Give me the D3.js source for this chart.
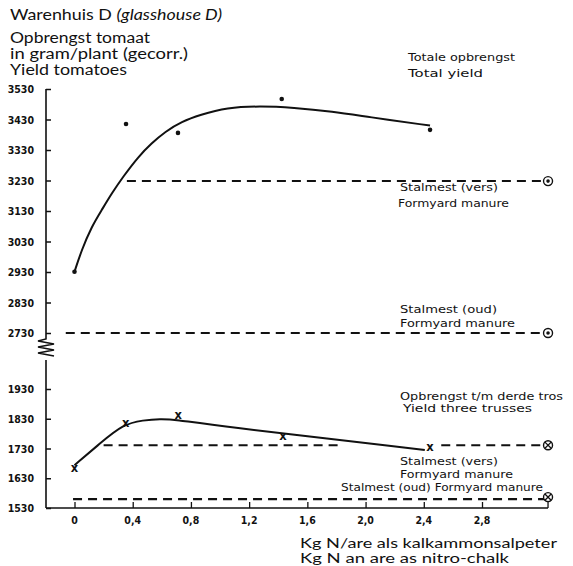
<!DOCTYPE html>
<html><head><meta charset="utf-8">
<script src="https://cdn.jsdelivr.net/npm/d3@7"></script>
<style>body{margin:0;background:#fff}svg{display:block}</style>
</head><body>
<svg id="c" width="573" height="566"></svg>
<script>
// ---- data ----
const xTicks = [0, 0.4, 0.8, 1.2, 1.6, 2.0, 2.4, 2.8];
const xTickLabels = ["0", "0,4", "0,8", "1,2", "1,6", "2,0", "2,4", "2,8"];
const upperTicks = [2730, 2830, 2930, 3030, 3130, 3230, 3330, 3430, 3530];
const lowerTicks = [1530, 1630, 1730, 1830, 1930];

// total yield observations
const totalN = [0, 0.354, 0.711, 1.424, 2.443];
const totalYield = [2931, 3415, 3386, 3497, 3396];
// fitted total-yield curve
const totalCurveN = [0, 0.049, 0.118, 0.187, 0.256, 0.335, 0.438, 0.530, 0.622, 0.737, 0.862, 1.046, 1.275, 1.501, 1.776, 2.01, 2.443];
const totalCurveY = [2931, 3002, 3079, 3133, 3188, 3243, 3308, 3352, 3390, 3423, 3445, 3469, 3474, 3469, 3456, 3439, 3410];

// yield three trusses observations
const trussN = [0, 0.352, 0.713, 1.433, 2.443];
const trussYield = [1663, 1815, 1842, 1769, 1735];
// fitted three-trusses curve
const trussCurveN = [0, 0.175, 0.335, 0.473, 0.587, 0.702, 0.931, 2.407];
const trussCurveY = [1674, 1747, 1812, 1825, 1830, 1827, 1809, 1725];

// farmyard manure reference levels
const upperVers = {from: 0.36, to: 3.24, value: 3228};
const upperOud = {from: -0.06, to: 3.24, value: 2730};
const lowerVersA = {from: 0.2, to: 1.83, value: 1741};
const lowerVersB = {from: 2.52, to: 3.24, value: 1741};
const lowerOud = {from: -0.01, to: 3.24, value: 1560};

// ---- drawing ----
const svg = d3.select("#c");
const x = d3.scaleLinear().domain([0, 2.8]).range([74.5, 482]);
const yU = d3.scaleLinear().domain([2730, 3530]).range([333, 89]);
const yL = d3.scaleLinear().domain([1530, 1930]).range([508, 389]);

const tickFont = "'DejaVu Sans Condensed', 'DejaVu Sans', sans-serif";
const labFont = "'DejaVu Sans', sans-serif";
const titleFont = "Lato, 'Open Sans', sans-serif";

function fitText(sel, len) {
  return sel.attr("textLength", len).attr("lengthAdjust", "spacingAndGlyphs");
}

// titles
const title = svg.append("text").attr("x", 10).attr("y", 20)
  .attr("font-family", titleFont).attr("font-size", 15).attr("fill", "#111");
title.append("tspan").text("Warenhuis D ");
title.append("tspan").attr("font-style", "italic").text("(glasshouse D)");
fitText(title, 212);
[["Opbrengst tomaat", 43, 140], ["in gram/plant (gecorr.)", 59, 178], ["Yield tomatoes", 75, 117]].forEach(([t, yy, w]) =>
  fitText(svg.append("text").attr("x", 10).attr("y", yy).attr("font-family", titleFont)
    .attr("font-size", 14.5).attr("fill", "#111").text(t), w));

// y axes
const axU = svg.append("g").attr("transform", "translate(46,0)")
  .call(d3.axisRight(yU).tickValues(upperTicks).tickSize(5).tickFormat(""));
const axL = svg.append("g").attr("transform", "translate(46,0)")
  .call(d3.axisRight(yL).tickValues(lowerTicks).tickSize(5).tickFormat(""));
[axU, axL].forEach(a => { a.select(".domain").remove(); a.selectAll("line").attr("stroke", "#111").attr("stroke-width", 1.5); });

// vertical axis line with break
const axisPath = d3.path();
axisPath.moveTo(46, yU(3530)); axisPath.lineTo(46, 339);
[[38,341],[54,344],[38,347],[54,350],[38,353],[54,356]].forEach(p => axisPath.lineTo(p[0], p[1]));
axisPath.moveTo(46, 360); axisPath.lineTo(46, yL(1530));
svg.append("path").attr("d", axisPath.toString()).attr("fill", "none").attr("stroke", "#111").attr("stroke-width", 1.6);

// y tick labels
function yLabels(ticks, sc) {
  svg.append("g").selectAll("text").data(ticks).join("text")
    .attr("x", 34).attr("y", d => sc(d) + 4).attr("text-anchor", "end")
    .attr("font-family", tickFont).attr("font-weight", "bold").attr("font-size", 10.5)
    .attr("fill", "#111").text(d => d);
}
yLabels(upperTicks, yU); yLabels(lowerTicks, yL);

// x axis
const axX = svg.append("g").attr("transform", `translate(0,${yL(1530)})`)
  .call(d3.axisTop(x).tickValues(xTicks).tickSize(6).tickFormat(""));
axX.select(".domain").remove();
axX.selectAll("line").attr("stroke", "#111").attr("stroke-width", 1.3);
svg.append("line").attr("x1", 46).attr("x2", x(3.24) + 2).attr("y1", yL(1530)).attr("y2", yL(1530))
  .attr("stroke", "#111").attr("stroke-width", 1.6);
svg.append("line").attr("x1", x(3.24) + 2).attr("x2", x(3.24) + 2).attr("y1", yL(1530)).attr("y2", yL(1560) + 3)
  .attr("stroke", "#111").attr("stroke-width", 1.3);
svg.append("g").selectAll("text").data(xTicks).join("text")
  .attr("x", (d, i) => x(d)).attr("y", 524).attr("text-anchor", "middle")
  .attr("font-family", tickFont).attr("font-weight", "bold").attr("font-size", 10.5)
  .attr("fill", "#111").text((d, i) => xTickLabels[i]);

// x axis title
[["Kg N/are als kalkammonsalpeter", 548, 257], ["Kg N an are as nitro-chalk", 563, 209]].forEach(([t, yy, w]) =>
  fitText(svg.append("text").attr("x", 300).attr("y", yy).attr("font-family", titleFont)
    .attr("font-size", 12.5).attr("fill", "#111").text(t), w));

// curves
const lineGen = (sc) => d3.line().x(d => x(d[0])).y(d => sc(d[1])).curve(d3.curveBasis);
svg.append("path").datum(d3.zip(totalCurveN, totalCurveY)).attr("d", lineGen(yU))
  .attr("fill", "none").attr("stroke", "#111").attr("stroke-width", 2);
svg.append("path").datum(d3.zip(trussCurveN, trussCurveY)).attr("d", lineGen(yL))
  .attr("fill", "none").attr("stroke", "#111").attr("stroke-width", 2);

// observation markers
svg.append("g").selectAll("circle").data(d3.zip(totalN, totalYield)).join("circle")
  .attr("cx", d => x(d[0])).attr("cy", d => yU(d[1])).attr("r", 2.3).attr("fill", "#111");
svg.append("g").selectAll("text").data(d3.zip(trussN, trussYield)).join("text")
  .attr("x", d => x(d[0])).attr("y", d => yL(d[1]) + 3.5).attr("text-anchor", "middle")
  .attr("font-family", labFont).attr("font-weight", "bold").attr("font-size", 11.5).attr("fill", "#111").text("x");

// manure dashed lines
function dashed(obj, sc, w) {
  svg.append("line").attr("x1", x(obj.from)).attr("x2", x(obj.to))
    .attr("y1", sc(obj.value)).attr("y2", sc(obj.value))
    .attr("stroke", "#111").attr("stroke-width", w || 2).attr("stroke-dasharray", "9,6");
}
dashed(upperVers, yU); dashed(upperOud, yU);
dashed(lowerVersA, yL); dashed(lowerVersB, yL); dashed(lowerOud, yL, 2.4);

// end symbols
function dotCircle(cx, cy) {
  svg.append("circle").attr("cx", cx).attr("cy", cy).attr("r", 4.5).attr("fill", "#fff").attr("stroke", "#111").attr("stroke-width", 1.4);
  svg.append("circle").attr("cx", cx).attr("cy", cy).attr("r", 1.8).attr("fill", "#111");
}
function crossCircle(cx, cy) {
  svg.append("circle").attr("cx", cx).attr("cy", cy).attr("r", 4.5).attr("fill", "#fff").attr("stroke", "#111").attr("stroke-width", 1.4);
  const r = 3.1;
  svg.append("path").attr("d", `M${cx-r},${cy-r}L${cx+r},${cy+r}M${cx-r},${cy+r}L${cx+r},${cy-r}`)
    .attr("stroke", "#111").attr("stroke-width", 1.3);
}
dotCircle(x(upperVers.to) + 2, yU(upperVers.value));
dotCircle(x(upperOud.to) + 2, yU(upperOud.value));
crossCircle(x(lowerVersB.to) + 2, yL(lowerVersB.value));
crossCircle(x(lowerOud.to) + 2, yL(lowerOud.value) - 2);

// annotations: [text, x, baseline, width]
const notes = [
  ["Totale opbrengst", 408, 61, 107], ["Total  yield", 408, 77, 75],
  ["Stalmest (vers)", 400, 191, 98], ["Formyard manure", 398, 207, 111],
  ["Stalmest (oud)", 400, 313, 97], ["Formyard manure", 400, 327, 115],
  ["Opbrengst t/m derde tros", 400, 400, 163], ["Yield three trusses", 403, 412, 129],
  ["Stalmest (vers)", 400, 465, 98], ["Formyard manure", 400, 478, 113],
  ["Stalmest (oud) Formyard manure", 341, 491, 202]
];
svg.append("g").selectAll("text").data(notes).join("text")
  .attr("x", d => d[1]).attr("y", d => d[2])
  .attr("textLength", d => d[3]).attr("lengthAdjust", "spacingAndGlyphs")
  .attr("font-family", labFont).attr("font-size", 10.5).attr("fill", "#111").text(d => d[0]);
</script>
</body></html>
